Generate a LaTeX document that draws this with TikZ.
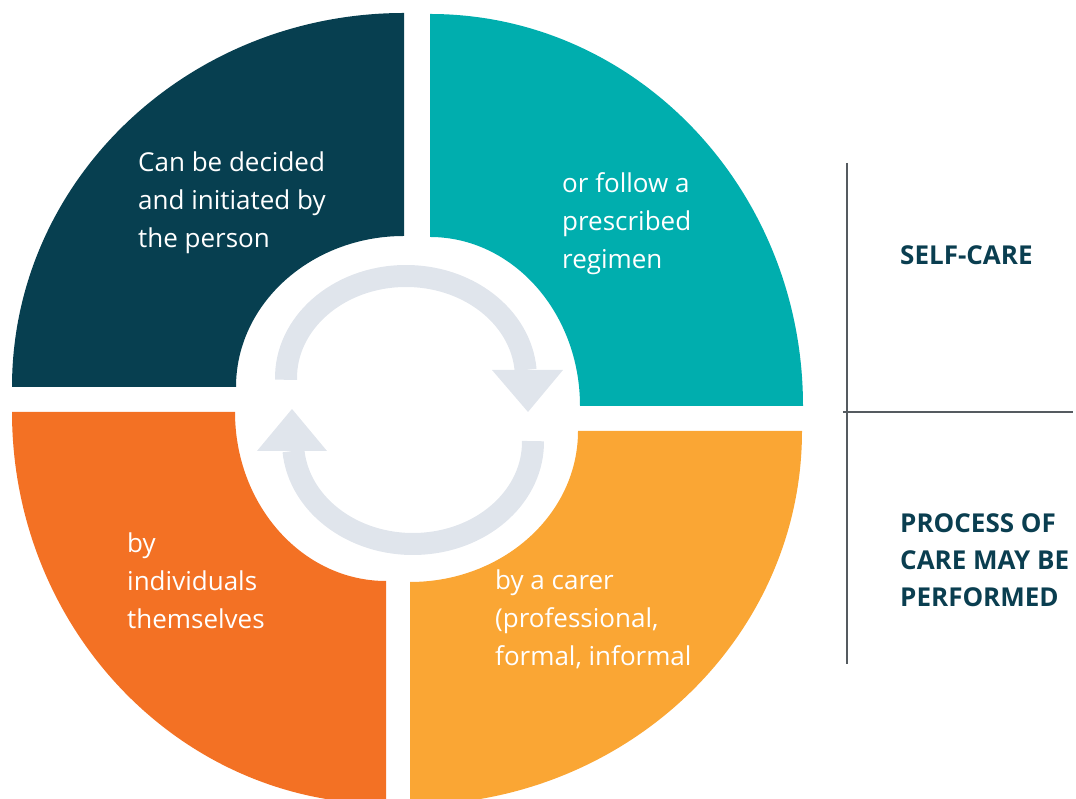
\documentclass[tikz,border=0pt]{standalone}
\usepackage{fontspec}
\setmainfont{Open Sans}
\usetikzlibrary{positioning}
\definecolor{darkpetrol}{HTML}{073F50}
\definecolor{tealring}{HTML}{00AEAE}
\definecolor{carrot}{HTML}{F37124}
\definecolor{amber}{HTML}{FAA634}
\definecolor{cyclegray}{HTML}{E0E5EC}
\definecolor{rulegray}{HTML}{555B60}
\definecolor{headblue}{HTML}{0A3E50}

\begin{document}
\begin{tikzpicture}[x=1pt, y=1pt,
    bodytext/.style={anchor=north west, inner sep=0pt, align=left, text=white, font=\fontsize{26}{38}\selectfont},
    headtext/.style={anchor=north west, inner sep=0pt, align=left, text=headblue, font=\bfseries\fontsize{26}{37}\selectfont},
    cyclearc/.style={draw=cyclegray, line width=22pt, line cap=butt},
    rule/.style={draw=rulegray, line width=2.5pt}]
  \useasboundingbox (0,0) rectangle (1076,799);
  \clip (0,0) rectangle (1076,799);

  % four quarter rings
  \fill[darkpetrol] (12,412) arc[start angle=180, end angle=90, x radius=392, y radius=374] -- (404,563) arc[start angle=90, end angle=180, x radius=168, y radius=151] -- cycle;
  \fill[tealring] (430,785) arc[start angle=90, end angle=0, x radius=373, y radius=392] -- (580,393) arc[start angle=0, end angle=90, x radius=150, y radius=169] -- cycle;
  \fill[amber] (802,368) arc[start angle=0, end angle=-90, x radius=392, y radius=374] -- (410,217) arc[start angle=-90, end angle=0, x radius=168, y radius=151] -- cycle;
  \fill[carrot] (386,-5) arc[start angle=270, end angle=180, x radius=374, y radius=392] -- (235,387) arc[start angle=180, end angle=270, x radius=151, y radius=169] -- cycle;

  % cycle arrows
  \coordinate (topc) at (406,421);
  \coordinate (botc) at (413,357);
  \draw[cyclearc] ([shift={(181:120 and 102)}]topc) arc[start angle=181, end angle=4.5, x radius=120, y radius=102];
  \draw[cyclearc] ([shift={(185:120 and 102)}]botc) arc[start angle=185, end angle=360.5, x radius=120, y radius=102];
  \fill[cyclegray] (492,429) -- (563,429) -- (528,387) -- cycle;
  \fill[cyclegray] (257,348) -- (327,348) -- (292,390) -- cycle;

  % texts in the ring
  \node[bodytext] (person) at (138,647) {Can be decided\\and initiated by\\the person};
  \node[bodytext] (regimen) at (562,627) {or follow a\\prescribed\\regimen};
  \node[bodytext] (self) at (127,266) {by\\individuals\\themselves};
  \node[bodytext] (carer) at (495,229) {by a carer\\(professional,\\formal, informal};

  % side labels
  \coordinate (vtop) at (847,636);
  \coordinate (vbot) at (847,135);
  \coordinate (hleft) at (843,387);
  \coordinate (hright) at (1073,387);
  \draw[rule] (vtop) -- (vbot);
  \draw[rule] (hleft) -- (hright);
  \node[headtext] (selfcare) at (900,554) {SELF-CARE};
  \node[headtext] (process) at (900,286) {PROCESS OF\\CARE MAY BE\\PERFORMED};
\end{tikzpicture}
\end{document}
